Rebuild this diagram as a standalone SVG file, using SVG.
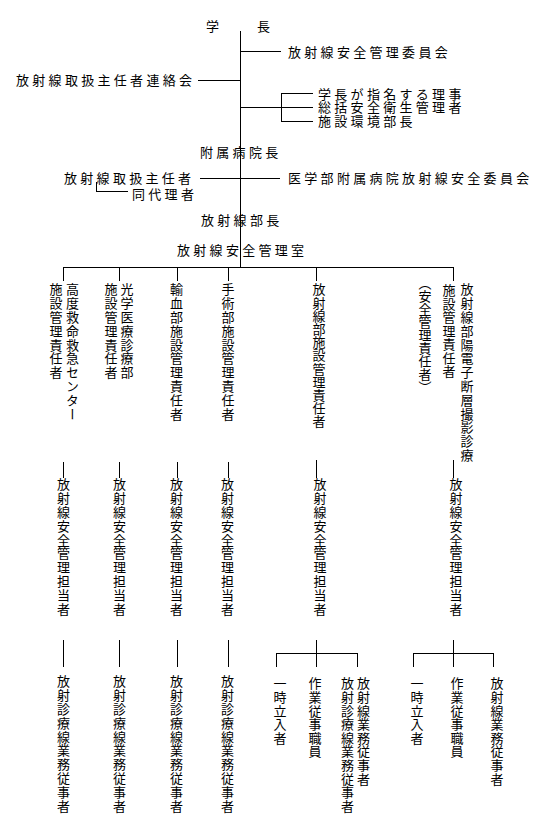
<svg xmlns="http://www.w3.org/2000/svg" width="540" height="823" viewBox="0 0 540 823">
<style>
text{font-family:"Noto Sans CJK JP","Noto Sans CJK SC",sans-serif;font-size:13px;fill:#000}
.h{letter-spacing:3.3px}
.v{writing-mode:vertical-rl;letter-spacing:0.8px}
#connectors path{stroke:#000;stroke-width:1;fill:none;shape-rendering:crispEdges}
</style>
<rect width="540" height="823" fill="#fff"/>
<g id="connectors">
<path d="M240.5 31V267"/>
<path d="M240 51.5H281"/>
<path d="M198 80.5H240"/>
<path d="M240 107.5H313M281.5 93V122M281 93.5H313M281 121.5H313"/>
<path d="M200 178.5H280"/>
<path d="M96.5 182V191.5H128"/>
<path d="M63 267.5H454"/>
<path d="M63.5 267V281M119.5 267V281M177.5 267V281M228.5 267V281M316.5 267V281M453.5 267V281"/>
<path d="M63.5 462V478M119.5 462V478M177.5 462V478M228.5 462V478M316.5 460V478M453.5 460V478"/>
<path d="M63.5 640V667M119.5 640V667M177.5 640V667M228.5 640V667"/>
<path d="M316.5 640V667M276 653.5H358M276.5 653V667M357.5 653V667"/>
<path d="M453.5 640V667M413 653.5H494M413.5 653V667M493.5 653V667"/>
</g>
<g id="president"><text><tspan x="206" y="31">学</tspan><tspan x="257" y="31">長</tspan></text></g>
<g id="safety-committee"><text class="h" x="288" y="57">放射線安全管理委員会</text></g>
<g id="liaison"><text class="h" x="16" y="85">放射線取扱主任者連絡会</text></g>
<g id="directors">
<text class="h" x="318" y="99">学長が指名する理事</text>
<text class="h" x="318" y="112">総括安全衛生管理者</text>
<text class="h" x="318" y="126">施設環境部長</text>
</g>
<g id="hospital-director"><text class="h" x="200" y="157">附属病院長</text></g>
<g id="supervisor"><text class="h" x="64" y="183">放射線取扱主任者</text></g>
<g id="deputy"><text class="h" x="132" y="199">同代理者</text></g>
<g id="hospital-committee"><text class="h" x="288" y="183">医学部附属病院放射線安全委員会</text></g>
<g id="radiology-head"><text class="h" x="201" y="225">放射線部長</text></g>
<g id="safety-office"><text class="h" x="177" y="255">放射線安全管理室</text></g>
<g id="col1">
<text class="v" x="72.5" y="283">高度救命救急センター</text>
<text class="v" x="56" y="283">施設管理責任者</text>
<text class="v" x="63.5" y="478">放射線安全管理担当者</text>
<text class="v" x="63.5" y="675">放射診療線業務従事者</text>
</g>
<g id="col2">
<text class="v" x="127" y="283">光学医療診療部</text>
<text class="v" x="111" y="283">施設管理責任者</text>
<text class="v" x="119.5" y="478">放射線安全管理担当者</text>
<text class="v" x="119.5" y="675">放射診療線業務従事者</text>
</g>
<g id="col3">
<text class="v" x="176.5" y="283">輸血部施設管理責任者</text>
<text class="v" x="176.5" y="478">放射線安全管理担当者</text>
<text class="v" x="176.5" y="675">放射診療線業務従事者</text>
</g>
<g id="col4">
<text class="v" x="228" y="283">手術部施設管理責任者</text>
<text class="v" x="227.5" y="478">放射線安全管理担当者</text>
<text class="v" x="227.5" y="675">放射診療線業務従事者</text>
</g>
<g id="col5">
<text class="v" x="319" y="283" style="letter-spacing:0.2px">放射線部施設管理責任者</text>
<text class="v" x="320" y="478">放射線安全管理担当者</text>
<text class="v" x="280" y="677" style="letter-spacing:0.6px">一時立入者</text>
<text class="v" x="315" y="677" style="letter-spacing:0.6px">作業従事職員</text>
<text class="v" x="363.5" y="677" style="letter-spacing:0.6px">放射線業務従事者</text>
<text class="v" x="347.5" y="677" style="letter-spacing:0.6px">放射診療線業務従事者</text>
</g>
<g id="col6">
<text class="v" x="467" y="283">放射線部陽電子断層撮影診療</text>
<text class="v" x="449" y="284" style="letter-spacing:0.5px">施設管理責任者</text>
<text class="v" x="425" y="277" style="letter-spacing:0px">（安全管理責任者）</text>
<text class="v" x="456" y="478">放射線安全管理担当者</text>
<text class="v" x="417" y="677" style="letter-spacing:0.6px">一時立入者</text>
<text class="v" x="457" y="677" style="letter-spacing:0.6px">作業従事職員</text>
<text class="v" x="497" y="677" style="letter-spacing:0.6px">放射線業務従事者</text>
</g>
</svg>
